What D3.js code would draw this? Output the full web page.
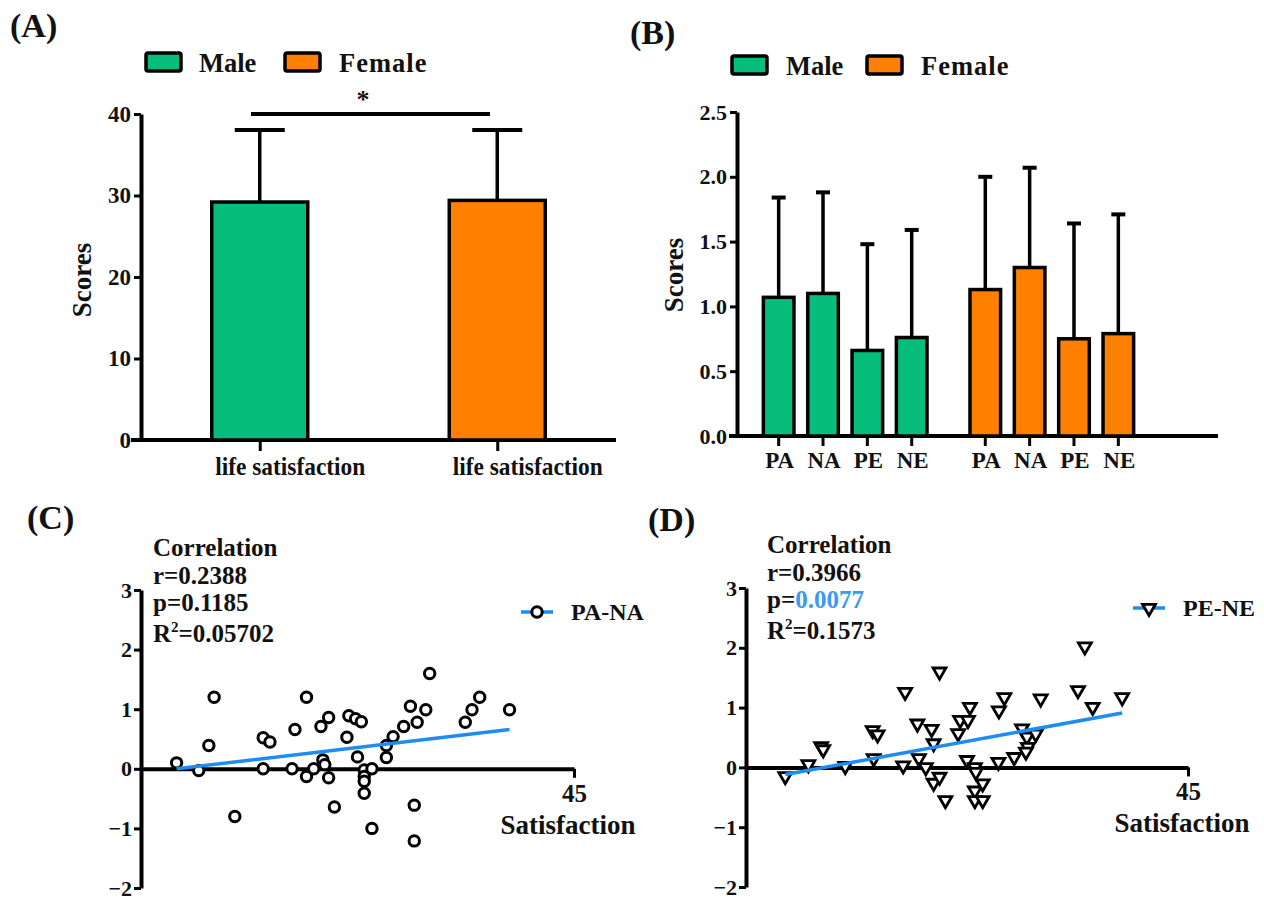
<!DOCTYPE html>
<html>
<head>
<meta charset="utf-8">
<script src="https://cdn.jsdelivr.net/npm/d3@7"></script>
<style>
  body { margin: 0; background: #fff; }
  text { font-family: "Liberation Serif", "Times New Roman", serif; font-weight: bold; fill: #111; }
</style>
</head>
<body>
<div id="chart"></div>
<script>
// Size of the page
const WIDTH = 1264;
const HEIGHT = 902;

const GREEN = "#07BD7B";
const ORANGE = "#FF7F00";
const BLUE = "#1E8CF0";

// Panel A data
const groupsA = ["Male", "Female"];
const meanA = [29.2, 29.4];
const sdA = [8.85, 8.65];
const ticksA = [0, 10, 20, 30, 40];

// Panel B data
const metricsB = ["PA", "NA", "PE", "NE"];
const maleB = [1.07, 1.1, 0.66, 0.76];
const maleSdB = [0.77, 0.78, 0.82, 0.83];
const femaleB = [1.13, 1.3, 0.75, 0.79];
const femaleSdB = [0.87, 0.77, 0.89, 0.92];
const ticksB = [0, 0.5, 1, 1.5, 2, 2.5];

// Panel C data (PA-NA vs satisfaction)
const xC = [3.7, 6.0, 7.05, 7.6, 9.75, 12.7, 13.4, 12.7, 15.7, 16.0, 17.2, 17.2, 17.95, 18.7, 19.5,
  18.9, 19.1, 19.5, 20.1, 21.4, 21.6, 22.3, 22.9, 22.5, 23.2, 23.2, 23.2, 23.2, 24.0, 24.0,
  25.5, 25.5, 26.2, 27.3, 28.0, 28.7, 29.6, 30.0, 28.4, 28.4, 33.7, 34.4, 35.2, 38.3];
const yC = [0.1, -0.03, 0.39, 1.2, -0.8, 0.52, 0.45, 0.0, 0.0, 0.66, 1.2, -0.13, 0.0, 0.71, 0.86,
  0.15, 0.07, -0.15, -0.64, 0.53, 0.89, 0.84, 0.79, 0.2, -0.02, -0.13, -0.21, -0.41, 0.0, -1.0,
  0.19, 0.39, 0.54, 0.71, 1.05, 0.78, 0.99, 1.6, -0.61, -1.21, 0.78, 0.99, 1.2, 0.99];
const fitC = [[3.7, 0.0], [38.3, 0.66]];
const statsC = ["Correlation", "r=0.2388", "0.1185", "0.05702"];

// Panel D data (PE-NE vs satisfaction)
const xD = [4.0, 6.35, 7.65, 7.86, 10.1, 12.9, 13.4, 13.0, 16.0, 16.2, 17.45, 17.6, 18.3, 18.9, 19.1,
  19.1, 19.7, 19.7, 20.3, 21.6, 21.8, 22.6, 22.8, 22.5, 23.3, 23.3, 24.1, 23.3, 24.1, 23.4,
  25.7, 25.75, 26.3, 27.3, 28.1, 28.6, 28.7, 28.5, 29.5, 30.0, 33.8, 34.5, 35.3, 38.3];
const yD = [-0.15, 0.05, 0.35, 0.3, 0.02, 0.62, 0.55, 0.15, 0.03, 1.26, 0.73, 0.15, 0.0, 0.64, 0.4,
  -0.26, -0.16, 1.6, -0.55, 0.57, 0.79, 0.79, 1.01, 0.12, 0.0, -0.39, -0.27, -0.55, -0.55, -0.08,
  0.09, 0.95, 1.17, 0.17, 0.65, 0.51, 0.34, 0.26, 0.56, 1.15, 1.29, 2.02, 1.01, 1.17];
const fitD = [[4.0, -0.12], [38.3, 0.91]];
const statsD = ["Correlation", "r=0.3966", "0.0077", "0.1573"];

const svg = d3.select("#chart").append("svg")
  .attr("width", WIDTH)
  .attr("height", HEIGHT);

// thick black axes, serif labels
function styleAxis(g, size) {
  g.select(".domain").attr("stroke", "#000").attr("stroke-width", 4);
  g.selectAll(".tick line").attr("stroke", "#000").attr("stroke-width", 3);
  g.selectAll(".tick text").attr("fill", "#111").style("font-size", size + "px");
}

function label(x, y, str, size, anchor) {
  return svg.append("text")
    .attr("x", x)
    .attr("y", y)
    .attr("text-anchor", anchor || "start")
    .style("font-size", size + "px")
    .text(str);
}

// legend: box, text, box, text offsets from x
function legend(x, y, offs) {
  [[GREEN, "Male", 0, offs[0]], [ORANGE, "Female", offs[1], offs[2]]].forEach(function (l) {
    svg.append("rect")
      .attr("x", x + l[2]).attr("y", y - 19)
      .attr("width", 35).attr("height", 18)
      .attr("fill", l[0]).attr("stroke", "#000").attr("stroke-width", 3.5).attr("rx", 2);
    label(x + l[3], y, l[1], 26.5).attr("letter-spacing", l[1] === "Female" ? 1 : 0);
  });
}

// ---------- Panel A ----------
label(10, 37, "(A)", 34);
legend(146, 72, [53, 139, 193]);

const xA = d3.scalePoint().domain(groupsA).range([141, 616]).padding(0.5);
const yA = d3.scaleLinear().domain([0, 40]).range([440, 114]);
const BAR_A = 96;

svg.append("g")
  .attr("transform", "translate(141,0)")
  .call(d3.axisLeft(yA).tickValues(ticksA).tickSize(7).tickSizeOuter(0).tickPadding(3))
  .call(styleAxis, 23);

const axA = svg.append("g")
  .attr("transform", "translate(0,440)")
  .call(d3.axisBottom(xA).tickSize(11).tickSizeOuter(0).tickPadding(6).tickFormat(() => "life satisfaction"))
  .call(styleAxis, 25);
axA.select(".domain").attr("d", "M131,0H616");
axA.selectAll(".tick text")
  .attr("dx", 30)
  .attr("textLength", 150)
  .attr("lengthAdjust", "spacingAndGlyphs");

const barsA = svg.append("g");
groupsA.forEach(function (g, i) {
  const cx = xA(g);
  const top = meanA[i] + sdA[i];
  barsA.append("line")
    .attr("x1", cx).attr("x2", cx)
    .attr("y1", yA(meanA[i])).attr("y2", yA(top))
    .attr("stroke", "#000").attr("stroke-width", 3.5);
  barsA.append("line")
    .attr("x1", cx - 25).attr("x2", cx + 25)
    .attr("y1", yA(top)).attr("y2", yA(top))
    .attr("stroke", "#000").attr("stroke-width", 4);
  barsA.append("rect")
    .attr("x", cx - BAR_A / 2).attr("width", BAR_A)
    .attr("y", yA(meanA[i])).attr("height", yA(0) - yA(meanA[i]))
    .attr("fill", i === 0 ? GREEN : ORANGE)
    .attr("stroke", "#000").attr("stroke-width", 3.5);
});

// significance marker
svg.append("line")
  .attr("x1", 251).attr("x2", 490)
  .attr("y1", yA(40)).attr("y2", yA(40))
  .attr("stroke", "#000").attr("stroke-width", 4);
label(363, 108, "*", 26, "middle");

svg.append("text")
  .attr("transform", "translate(91,280) rotate(-90)")
  .attr("text-anchor", "middle")
  .style("font-size", "27px")
  .text("Scores");

// ---------- Panel B ----------
label(630, 44, "(B)", 34);
legend(732, 75, [54, 135, 189]);

const yB = d3.scaleLinear().domain([0, 2.5]).range([436, 112]);
const x0B = d3.scaleBand().domain(groupsA).range([756.5, 1140.5]).paddingInner(0.1415);
const x1B = d3.scaleBand().domain(metricsB).range([0, x0B.bandwidth()]).paddingInner(0.31).paddingOuter(0.155);

svg.append("g")
  .attr("transform", "translate(737,0)")
  .call(d3.axisLeft(yB).tickValues(ticksB).tickFormat(d3.format(".1f")).tickSize(7).tickSizeOuter(0).tickPadding(3))
  .call(styleAxis, 22);

svg.append("line")
  .attr("x1", 729).attr("x2", 1218)
  .attr("y1", yB(0)).attr("y2", yB(0))
  .attr("stroke", "#000").attr("stroke-width", 4);

const barsB = svg.append("g");
[[maleB, maleSdB, GREEN], [femaleB, femaleSdB, ORANGE]].forEach(function (s, gi) {
  const g = groupsA[gi];
  metricsB.forEach(function (m, i) {
    const cx = x0B(g) + x1B(m) + x1B.bandwidth() / 2;
    const top = s[0][i] + s[1][i];
    barsB.append("line")
      .attr("x1", cx).attr("x2", cx).attr("y1", yB(0)).attr("y2", yB(0) + 10)
      .attr("stroke", "#000").attr("stroke-width", 3);
    barsB.append("line")
      .attr("x1", cx).attr("x2", cx).attr("y1", yB(s[0][i])).attr("y2", yB(top))
      .attr("stroke", "#000").attr("stroke-width", 3.5);
    barsB.append("line")
      .attr("x1", cx - 7).attr("x2", cx + 7).attr("y1", yB(top)).attr("y2", yB(top))
      .attr("stroke", "#000").attr("stroke-width", 4);
    barsB.append("rect")
      .attr("x", x0B(g) + x1B(m)).attr("width", x1B.bandwidth())
      .attr("y", yB(s[0][i])).attr("height", yB(0) - yB(s[0][i]))
      .attr("fill", s[2]).attr("stroke", "#000").attr("stroke-width", 3.5);
    label(cx + 1, 468, m, 23, "middle");
  });
});

svg.append("text")
  .attr("transform", "translate(683,275) rotate(-90)")
  .attr("text-anchor", "middle")
  .style("font-size", "27px")
  .text("Scores");

// ---------- Scatter panels ----------
function scatter(opt) {
  const x = d3.scaleLinear().domain([0, 45]).range(opt.xr);
  const y = d3.scaleLinear().domain([-2, 3]).range(opt.yr);

  label(opt.lab[0], opt.lab[1], opt.name, 34);

  svg.append("g")
    .attr("transform", "translate(" + opt.xr[0] + ",0)")
    .call(d3.axisLeft(y).ticks(5).tickSize(7).tickSizeOuter(0).tickPadding(2))
    .call(styleAxis, 22);
  svg.append("g")
    .attr("transform", "translate(0," + y(0) + ")")
    .call(d3.axisBottom(x).tickValues([45]).tickSize(9).tickSizeOuter(0).tickPadding(6))
    .call(styleAxis, 25);

  label(opt.xr[1] - 6, y(0) + 65, "Satisfaction", 27, "middle");

  // stats block
  const sx = opt.stats[0], sy = opt.stats[1];
  label(sx, sy, opt.text[0], 25);
  label(sx, sy + 28, opt.text[1], 25);
  const p = label(sx, sy + 55, "p=", 25);
  p.append("tspan").attr("fill", opt.pBlue ? "#3A9BF0" : "#111").text(opt.text[2]);
  const r2 = label(sx, sy + 86, "R", 25);
  r2.append("tspan").attr("dy", -10).style("font-size", "15px").text("2");
  r2.append("tspan").attr("dy", 10).text("=" + opt.text[3]);

  const marker = d3.symbol().type(d3.symbolTriangle).size(72)();
  function drawMark(g, cx, cy) {
    if (opt.tri) {
      g.append("path").attr("d", marker)
        .attr("transform", "translate(" + cx + "," + cy + ") rotate(180)")
        .attr("fill", "#fff").attr("stroke", "#000").attr("stroke-width", 2.8);
    } else {
      g.append("circle").attr("cx", cx).attr("cy", cy).attr("r", 5.2)
        .attr("fill", "#fff").attr("stroke", "#000").attr("stroke-width", 3);
    }
  }

  const pts = svg.append("g");
  opt.xs.forEach(function (v, i) {
    drawMark(pts, x(v), y(opt.ys[i]));
  });

  svg.append("line")
    .attr("x1", x(opt.fit[0][0])).attr("y1", y(opt.fit[0][1]))
    .attr("x2", x(opt.fit[1][0])).attr("y2", y(opt.fit[1][1]))
    .attr("stroke", BLUE).attr("stroke-width", 3.5);

  // legend
  const lg = svg.append("g");
  lg.append("line")
    .attr("x1", opt.leg[0]).attr("x2", opt.leg[0] + 32)
    .attr("y1", opt.leg[1]).attr("y2", opt.leg[1])
    .attr("stroke", BLUE).attr("stroke-width", 3.5);
  drawMark(lg, opt.leg[0] + 16, opt.leg[1]);
  label(opt.leg[0] + 50, opt.leg[1] + 8, opt.series, 24);
}

scatter({
  name: "(C)", lab: [27, 529],
  xr: [141, 574], yr: [888, 590],
  xs: xC, ys: yC, fit: fitC, tri: false,
  stats: [153, 556], text: statsC, pBlue: false,
  leg: [521, 612], series: "PA-NA"
});

scatter({
  name: "(D)", lab: [648, 531],
  xr: [746, 1188], yr: [887, 588],
  xs: xD, ys: yD, fit: fitD, tri: true,
  stats: [767, 553], text: statsD, pBlue: true,
  leg: [1133, 608], series: "PE-NE"
});
</script>
</body>
</html>
